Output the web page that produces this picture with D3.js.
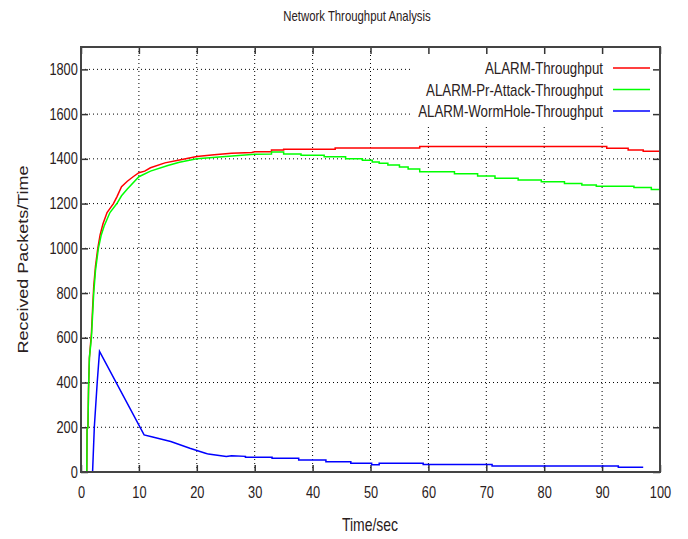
<!DOCTYPE html>
<html><head><meta charset="utf-8">
<script src="https://cdn.jsdelivr.net/npm/d3@7"></script>
<style>body{margin:0;background:#fff}</style>
</head><body>
<svg id="chart" width="688" height="539"></svg>
<script>
const title = "Network Throughput Analysis";
const xLabel = "Time/sec";
const yLabel = "Received Packets/Time";
const xTicks = [0,10,20,30,40,50,60,70,80,90,100];
const yTicks = [0,200,400,600,800,1000,1200,1400,1600,1800];
const seriesNames = ["ALARM-Throughput","ALARM-Pr-Attack-Throughput","ALARM-WormHole-Throughput"];
const seriesColors = ["#ff0000","#00ff00","#0000ff"];

const alarmThroughput = [[1.0,0],[1.05,190],[1.2,200],[1.3,370],[1.45,510],[1.8,620],[2.0,730],[2.2,830],[2.5,920],[2.9,1000],[3.3,1060],[3.8,1110],[4.5,1160],[5.6,1200],[6.2,1230],[7,1275],[8,1300],[9,1320],[10,1338],[11,1345],[12,1360],[14.5,1382],[17,1395],[20,1410],[23,1418],[26,1425],[29.5,1428],[30,1432],[32.9,1432],[32.9,1440],[35,1440],[35,1443],[43.9,1443],[43.9,1449],[58.5,1449],[58.5,1455],[90.8,1455],[90.8,1447],[94.5,1447],[94.5,1440],[97.1,1440],[97.1,1434],[100,1434]];

const prAttackThroughput = [[1.0,0],[1.05,190],[1.2,200],[1.3,370],[1.45,510],[1.8,600],[2.0,700],[2.2,800],[2.5,900],[3.0,1000],[3.5,1060],[4.0,1100],[5.0,1160],[6.2,1200],[7,1235],[8,1265],[10,1320],[12,1345],[15,1370],[17,1385],[20,1400],[25,1410],[30,1420],[32.9,1422],[32.9,1431],[35,1431],[35,1422],[38,1422],[38,1416],[42,1416],[42,1409],[45.7,1409],[45.7,1400],[48.6,1400],[48.6,1394],[50.3,1394],[50.3,1386],[51.5,1386],[51.5,1380],[53,1380],[53,1372],[55,1372],[55,1364],[56.5,1364],[56.5,1355],[58.5,1355],[58.5,1342],[64.5,1342],[64.5,1333],[68.5,1333],[68.5,1323],[71.5,1323],[71.5,1313],[75.5,1313],[75.5,1305],[79.5,1305],[79.5,1298],[83.5,1298],[83.5,1290],[86.5,1290],[86.5,1283],[89,1283],[89,1278],[95.5,1278],[95.5,1272],[98.5,1272],[98.5,1263],[100,1263]];

const wormholeThroughput = [[2.0,0],[2.3,200],[2.8,400],[3.2,539],[10.9,166],[12.2,158],[15.5,136],[18.8,106],[21.5,84],[22,80],[25.1,69],[26,73],[28.4,70],[28.4,66],[33,66],[33,61],[37.6,61],[37.6,54],[42.3,54],[42.3,46],[46.6,46],[46.6,39],[50.2,39],[50.2,32],[51.5,32],[51.5,39],[59.1,39],[59.1,33],[71,33],[71,27],[92.8,27],[92.8,21],[97.1,21]];

const svg = d3.select("#chart");
const L = 81, R = 660, T = 47, B = 472;
const x = d3.scaleLinear().domain([0,100]).range([L,R]);
const y = d3.scaleLinear().domain([0,1900]).range([B,T]);
const font = "'Liberation Sans',Arial,sans-serif";
const SX = 0.8;   // narrow glyphs, as in the reference
const txtCol = "#2a2020";

// condensed text helper: group at (px,py), scaled horizontally
function ctext(px, py, str, size, anchor){
  const g = svg.append("g").attr("transform",`translate(${px},${py}) scale(${SX},1)`);
  g.append("text").attr("text-anchor",anchor).attr("font-family",font)
    .attr("font-size",size).attr("fill",txtCol).text(str);
  return g;
}

// grid
const grid = svg.append("g");
grid.selectAll("line.gy").data(yTicks.filter(d=>d>0)).join("line")
  .attr("x1",L).attr("x2",R).attr("y1",d=>y(d)).attr("y2",d=>y(d))
  .attr("stroke","#000").attr("stroke-width",1).attr("stroke-dasharray","1,3");
grid.selectAll("line.gx").data(xTicks.filter(d=>d>0&&d<100)).join("line")
  .attr("x1",d=>x(d)).attr("x2",d=>x(d)).attr("y1",T).attr("y2",B)
  .attr("stroke","#000").attr("stroke-width",1).attr("stroke-dasharray","1,3");

// legend background covering grid
svg.append("rect").attr("x",412).attr("y",T+2).attr("width",R-412-2).attr("height",76).attr("fill","#fff");

// axes
const axisB = d3.axisBottom(x).tickValues(xTicks).tickSize(-7).tickPadding(15).tickFormat(d3.format("d"));
const axisT = d3.axisTop(x).tickValues(xTicks).tickSize(-7).tickFormat("");
const axisL = d3.axisLeft(y).tickValues(yTicks).tickSize(-7).tickPadding(4).tickFormat(d3.format("d"));
const axisRt = d3.axisRight(y).tickValues(yTicks).tickSize(-7).tickFormat("");
function styleAxis(g){ g.select(".domain").remove(); g.selectAll(".tick line").attr("stroke","#333").attr("stroke-width",1.5);
  g.selectAll("text").attr("font-family",font).attr("font-size",16).attr("fill",txtCol)
   .attr("transform",`scale(${SX},1)`); }
svg.append("g").attr("transform",`translate(0,${B})`).call(axisB).call(styleAxis);
svg.append("g").attr("transform",`translate(0,${T})`).call(axisT).call(styleAxis);
svg.append("g").attr("transform",`translate(${L},0)`).call(axisL).call(styleAxis);
svg.append("g").attr("transform",`translate(${R},0)`).call(axisRt).call(styleAxis);

// lines
const line = d3.line().x(d=>x(d[0])).y(d=>y(d[1]));
const datasets = [alarmThroughput, prAttackThroughput, wormholeThroughput];
svg.append("g").selectAll("path").data(datasets).join("path")
  .attr("d",line).attr("fill","none").attr("stroke",(d,i)=>seriesColors[i]).attr("stroke-width",1.5);

// border
svg.append("rect").attr("x",L).attr("y",T).attr("width",R-L).attr("height",B-T)
  .attr("fill","none").attr("stroke","#444").attr("stroke-width",2);

// legend
seriesNames.forEach((n,i)=>{
  const yy = 68 + i*21.5;
  ctext(603, yy+6, n, 16.6, "end");
  svg.append("line").attr("x1",613).attr("x2",650).attr("y1",yy).attr("y2",yy)
    .attr("stroke",seriesColors[i]).attr("stroke-width",1.5);
});

// title and labels
ctext(357, 21, title, 14.2, "middle");
ctext(370, 531, xLabel, 17.5, "middle");
svg.append("g").attr("transform",`translate(28,${(T+B)/2}) rotate(-90) scale(1.2,1)`)
  .append("text").attr("text-anchor","middle")
  .attr("font-family",font).attr("font-size",15).attr("fill",txtCol).text(yLabel);
</script>
</body></html>
